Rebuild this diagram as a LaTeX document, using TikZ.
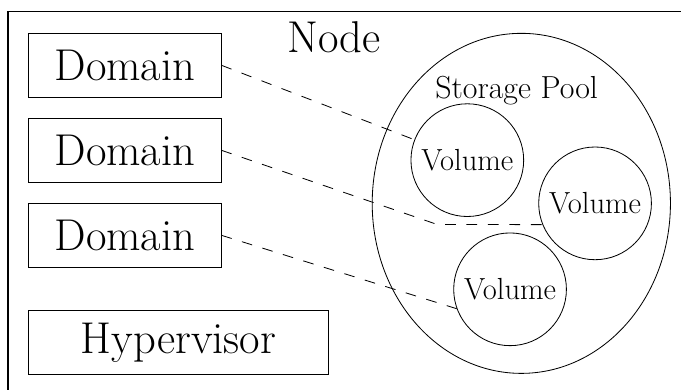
\documentclass[tikz,border=0pt]{standalone}
\usepackage{tikz}
\usetikzlibrary{shapes.geometric}

\begin{document}
\begin{tikzpicture}[line width=0.5pt,
    bigfont/.style={font=\fontsize{27}{32}\selectfont},
    smallfont/.style={font=\fontsize{19.3}{23}\selectfont},
    dombox/.style={draw, bigfont, minimum width=4.09cm, minimum height=1.36cm, inner sep=0pt},
    volcircle/.style={draw, circle, font=\fontsize{18.5}{22}\selectfont, minimum size=2.4cm, inner sep=0pt},
    link/.style={dash pattern=on 6.5pt off 6.5pt}]
\useasboundingbox (0, 0) rectangle (14.5, 8.29);
\clip (0, 0) rectangle (14.5, 8.29);
\draw[line width=0.7pt] (0.17, -1) rectangle (16, 8.05);
\node[anchor=base, bigfont] (nodelabel) at (7.11, 7.18){Node};
\node[dombox] (dom1) at (2.66, 6.90){Domain};
\node[dombox] (dom2) at (2.66, 5.09){Domain};
\node[dombox] (dom3) at (2.66, 3.28){Domain};
\node[dombox, minimum width=6.37cm] (hyper) at (3.80, 1.00){Hypervisor};
\node[draw, ellipse, minimum width=6.35cm, minimum height=7.24cm, inner sep=0pt] (pool) at (11.10, 3.96){};
\node[anchor=base, smallfont] (poollabel) at (11.00, 6.20){Storage Pool};
\node[volcircle] (vol1) at (9.95, 4.88){Volume};
\node[volcircle] (vol2) at (12.67, 3.96){Volume};
\node[volcircle] (vol3) at (10.86, 2.13){Volume};
\coordinate (bend) at (9.31, 3.51);
\draw[link] (dom1.east) -- (vol1);
\draw[link] (dom2.east) -- (bend) -- (vol2.202);
\draw[link] (dom3.east) -- (vol3.200);
\end{tikzpicture}
\end{document}
